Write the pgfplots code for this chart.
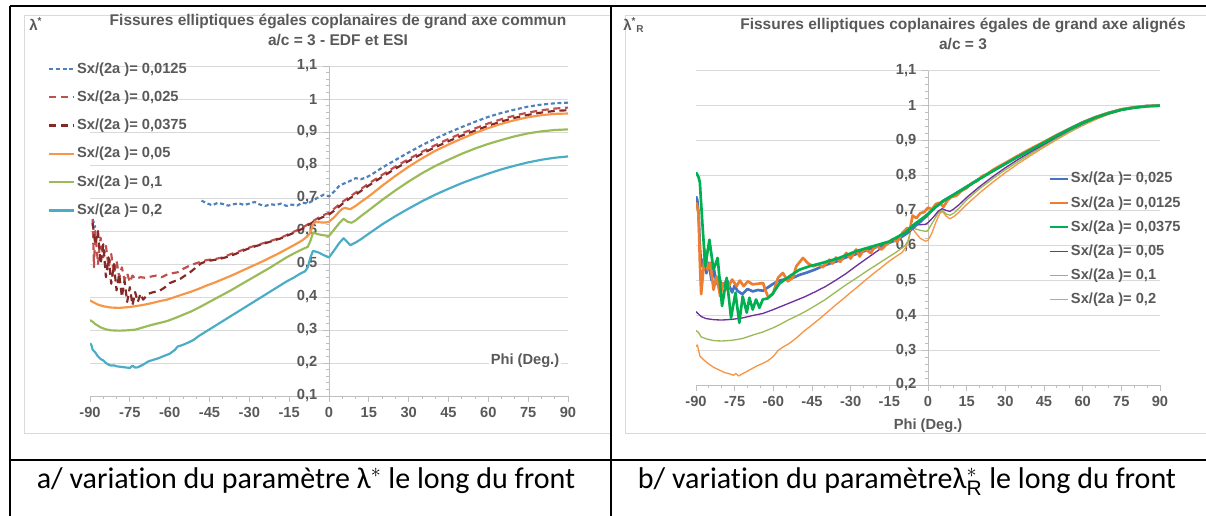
\documentclass[border=0pt]{standalone}
\usepackage{pgfplots}
\pgfplotsset{compat=1.18}
\usepackage{fontspec}
\setmainfont{Liberation Sans}
\newfontfamily\capfont{Carlito}[Ligatures=NoCommon]
\definecolor{txt}{HTML}{595959}
\definecolor{grd}{HTML}{D9D9D9}
\definecolor{axl}{HTML}{BFBFBF}
\definecolor{frm}{HTML}{D9D9D9}
\definecolor{cA}{HTML}{4F81BD}
\definecolor{cB}{HTML}{C0504D}
\definecolor{cC}{HTML}{842828}
\definecolor{cD}{HTML}{F79646}
\definecolor{cE}{HTML}{9BBB59}
\definecolor{cF}{HTML}{4BACC6}
\definecolor{rA}{HTML}{4472C4}
\definecolor{rB}{HTML}{ED7D31}
\definecolor{rC}{HTML}{00B050}
\definecolor{rD}{HTML}{7030A0}
\definecolor{rE}{HTML}{9BBB59}
\definecolor{rF}{HTML}{F79646}
\newcommand\chf{\bfseries\fontsize{8.8}{10.4}\selectfont}
\pgfplotsset{
 mychart/.style={
  scale only axis,
  axis x line=bottom, axis y line=middle,
  axis line style={-, draw=axl, line width=0.6pt},
  xmin=-90, xmax=90,
  xtick={-90,-75,-60,-45,-30,-15,0,15,30,45,60,75,90},
  minor x tick num=2,
  minor y tick num=4,
  ymajorgrids, grid style={draw=grd, line width=0.6pt},
  major tick length=3.5pt, minor tick length=2pt,
  tick align=outside,
  tick style={draw=axl, line width=0.5pt},
  ticklabel style={font=\chf, text=txt},
  /pgf/number format/assume math mode=true,
  yticklabel style={/pgf/number format/.cd, use comma, fixed, precision=1},
  hide obscured x ticks=false, hide obscured y ticks=false,
  unbounded coords=jump,
  legend cell align=left,
  every axis plot/.append style={line join=round},
 }
}
\begin{document}
\begin{tikzpicture}
\path[use as bounding box] (0,0) rectangle (723.6pt,-309pt);
\begin{scope}[x=0.6pt,y=-0.6pt]
\draw[frm, line width=0.6pt] (24,15) rectangle (610,433);
\draw[frm, line width=0.6pt] (625,15) rectangle (1220,433);
\end{scope}

% ---------------- LEFT CHART ----------------
\begin{axis}[mychart, at={(54pt,-237.6pt)}, anchor=south west,
  width=286.8pt, height=198pt, ymin=0.1, ymax=1.1,
  ytick={0.1,0.2,0.3,0.4,0.5,0.6,0.7,0.8,0.9,1,1.1},
  legend style={at={(axis description cs:-0.088,1.017)}, anchor=north west,
    draw=none, fill=none, font=\chf, text=txt, row sep=7.1pt, inner sep=0pt,
    nodes={inner sep=1pt},
    /tikz/every even column/.append style={column sep=0pt}},
  legend image code/.code={\draw[#1] (0pt,0pt) -- (15pt,0pt);}]
\addplot[cA, line width=1.3pt, dash pattern=on 2.4pt off 1.6pt] coordinates {
(-89,0.636) (-88,0.61) (-87,nan) (-48,0.692) (-46,0.684) (-44,0.678) (-42,0.685) (-40,0.682)
(-38,0.677) (-36,0.681) (-34,0.684) (-32,0.679) (-30,0.683) (-28,0.688) (-26,0.680) (-24,0.676)
(-22,0.681) (-20,0.679) (-18,0.683) (-16,0.676) (-14,0.68) (-12,0.677) (-10,0.686) (-8,0.683)
(-6,0.693) (-4,0.702) (-2,0.71) (0,0.705) (2,0.72) (4,0.738) (6,0.745) (8,0.752) (10,0.76)
(12,0.757) (14,0.762) (17,0.776) (20,0.792) (25,0.815) (30,0.838) (35,0.86) (40,0.88) (45,0.898)
(50,0.915) (55,0.931) (60,0.946) (65,0.958) (70,0.968) (75,0.977) (80,0.983) (85,0.987) (90,0.989)};
\addlegendentry{Sx/(2a )= 0,0125}
\addplot[cB, line width=1.3pt, dash pattern=on 4.2pt off 2.8pt] coordinates {
(-89,0.635) (-88.5,0.49) (-88,0.60) (-87,0.50) (-86,0.58) (-85,0.52) (-84,0.555) (-83,0.49)
(-82,0.53) (-81,0.47) (-80,0.51) (-79,0.46) (-78,0.49) (-77,0.452) (-76,0.472) (-75,0.445)
(-74,0.465) (-73,0.455) (-71,0.46) (-69,0.458) (-67,0.462) (-65,0.465) (-63,0.46) (-61,0.468)
(-59,0.472) (-57,0.475) (-55,0.485) (-52,0.497) (-49,0.505) (-46,0.512) (-43,0.515) (-40,0.52)
(-37,0.53) (-34,0.538) (-30,0.55) (-26,0.56) (-22,0.57) (-18,0.58) (-14,0.595) (-10,0.61)
(-6,0.63) (-3,0.645) (0,0.655) (2,0.668) (5,0.688) (8,0.705) (10,0.716) (15,0.744) (20,0.77)
(25,0.795) (30,0.818) (35,0.84) (40,0.86) (45,0.879) (50,0.896) (55,0.911) (60,0.926) (65,0.939)
(70,0.95) (75,0.959) (80,0.966) (85,0.971) (90,0.974)};
\addlegendentry{Sx/(2a )= 0,025}
\addplot[cC, line width=1.3pt, dash pattern=on 4.2pt off 2.8pt] coordinates {
(-89,0.625) (-88,0.56) (-87,0.6) (-86,0.50) (-85,0.56) (-84,0.46) (-83,0.52) (-82,0.44) (-81,0.50)
(-80,0.42) (-79,0.47) (-78,0.40) (-77,0.45) (-76,0.385) (-75,0.43) (-74,0.375) (-73,0.415)
(-72,0.385) (-71,0.41) (-70,0.392) (-68,0.41) (-66,0.415) (-64,0.418) (-62,0.428) (-60,0.442)
(-56,0.455) (-52,0.477) (-48,0.503) (-45,0.51) (-42,0.514) (-39,0.52) (-36,0.528) (-33,0.538)
(-30,0.548) (-26,0.558) (-22,0.568) (-18,0.578) (-14,0.592) (-10,0.607) (-6,0.627) (-3,0.64)
(0,0.65) (2,0.662) (5,0.682) (8,0.7) (10,0.71) (15,0.738) (20,0.764) (25,0.789) (30,0.812)
(35,0.834) (40,0.854) (45,0.872) (50,0.889) (55,0.904) (60,0.919) (65,0.932) (70,0.943)
(75,0.952) (80,0.959) (85,0.964) (90,0.966)};
\addlegendentry{Sx/(2a )= 0,0375}
\addplot[cD, line width=1.3pt] coordinates {
(-90,0.39) (-89,0.385) (-87,0.377) (-85,0.372) (-82,0.368) (-79,0.367) (-76,0.369) (-73,0.372)
(-70,0.376) (-67,0.381) (-64,0.387) (-61,0.392) (-58,0.4) (-55,0.408) (-52,0.416) (-49,0.425)
(-46,0.435) (-43,0.444) (-40,0.454) (-37,0.464) (-34,0.475) (-31,0.486) (-28,0.497) (-25,0.508)
(-22,0.52) (-19,0.532) (-16,0.545) (-13,0.558) (-10,0.572) (-8,0.585) (-7,0.595) (-6,0.622)
(-5,0.627) (-3,0.626) (-1,0.626) (0,0.628) (2,0.642) (4,0.66) (5,0.667) (6,0.67) (7,0.668)
(8,0.666) (10,0.676) (12,0.688) (15,0.705) (20,0.737) (25,0.767) (30,0.795) (35,0.82) (40,0.843)
(45,0.862) (50,0.88) (55,0.897) (60,0.912) (65,0.925) (70,0.936) (75,0.945) (80,0.951) (85,0.955)
(90,0.956)};
\addlegendentry{Sx/(2a )= 0,05}
\addplot[cE, line width=1.3pt] coordinates {
(-90,0.33) (-89,0.325) (-88,0.318) (-86,0.308) (-84,0.302) (-82,0.299) (-79,0.298) (-76,0.299)
(-73,0.301) (-70,0.308) (-67,0.315) (-64,0.321) (-61,0.327) (-58,0.336) (-55,0.346) (-52,0.356)
(-49,0.368) (-46,0.381) (-43,0.394) (-40,0.407) (-37,0.42) (-34,0.434) (-31,0.448) (-28,0.462)
(-25,0.476) (-22,0.49) (-19,0.505) (-16,0.52) (-13,0.533) (-10,0.545) (-8,0.552) (-7,0.57)
(-6,0.595) (-4,0.59) (-2,0.587) (0,0.585) (2,0.605) (4,0.625) (5.5,0.637) (7,0.628) (8.5,0.625)
(10,0.632) (12,0.645) (15,0.663) (20,0.694) (25,0.723) (30,0.75) (35,0.775) (40,0.797) (45,0.816)
(50,0.834) (55,0.85) (60,0.864) (65,0.876) (70,0.887) (75,0.896) (80,0.902) (85,0.906) (90,0.908)};
\addlegendentry{Sx/(2a )= 0,1}
\addplot[cF, line width=1.3pt] coordinates {
(-90,0.26) (-89.5,0.255) (-89,0.24) (-88,0.232) (-87,0.22) (-86,0.212) (-85,0.208) (-84,0.2)
(-83,0.195) (-82,0.192) (-81,0.193) (-80,0.19) (-78,0.188) (-76,0.186) (-75,0.185) (-74,0.192)
(-73,0.186) (-72,0.187) (-70,0.195) (-68,0.205) (-66,0.21) (-64,0.215) (-62,0.222) (-60,0.228)
(-58,0.24) (-57,0.25) (-55,0.255) (-53,0.262) (-51,0.27) (-49,0.282) (-46,0.297) (-43,0.312)
(-40,0.327) (-37,0.342) (-34,0.357) (-31,0.372) (-28,0.387) (-25,0.402) (-22,0.417) (-19,0.432)
(-16,0.447) (-13,0.46) (-11,0.47) (-9,0.478) (-8,0.49) (-7,0.52) (-6,0.54) (-4,0.535) (-2,0.527)
(0,0.52) (2,0.542) (4,0.565) (5.5,0.578) (7,0.566) (8,0.557) (10,0.565) (12,0.575) (15,0.592)
(20,0.62) (25,0.645) (30,0.668) (35,0.69) (40,0.71) (45,0.728) (50,0.745) (55,0.76) (60,0.774)
(65,0.787) (70,0.798) (75,0.808) (80,0.816) (85,0.822) (90,0.826)};
\addlegendentry{Sx/(2a )= 0,2}
\node[fill=white, inner sep=1pt, font=\chf, text=txt] at (axis cs:73.8,0.206) {Phi (Deg.)};
\end{axis}

% ---------------- RIGHT CHART ----------------
\begin{axis}[mychart, at={(417.6pt,-231pt)}, anchor=south west,
  width=278.4pt, height=188.6pt, ymin=0.2, ymax=1.1,
  ytick={0.2,0.3,0.4,0.5,0.6,0.7,0.8,0.9,1,1.1},
  xlabel={Phi (Deg.)}, xlabel style={font=\chf, text=txt},
  legend style={at={(axis description cs:0.7586,0.683)}, anchor=north west,
    draw=none, fill=none, font=\chf, text=txt, row sep=4.6pt, inner sep=0pt,
    nodes={inner sep=1pt},
    /tikz/every even column/.append style={column sep=0pt}},
  legend image code/.code={\draw[#1] (0pt,0pt) -- (11pt,0pt);}]
\addplot[rF, line width=0.8pt, forget plot] coordinates {
(-90,0.31) (-89.5,0.315) (-89,0.3) (-88.5,0.283) (-87,0.272) (-85,0.26) (-83,0.25) (-81,0.243)
(-79,0.236) (-77,0.232) (-75.5,0.228) (-74.5,0.233) (-73.5,0.226) (-72,0.232) (-70,0.24)
(-68,0.248) (-66,0.256) (-64,0.262) (-62,0.27) (-60,0.282) (-58,0.3) (-56,0.31) (-54,0.318)
(-51,0.335) (-48,0.355) (-45,0.372) (-42,0.39) (-39,0.409) (-36,0.428) (-33,0.446) (-30,0.465)
(-27,0.483) (-24,0.502) (-21,0.52) (-18,0.537) (-15,0.555) (-12,0.57) (-10,0.58) (-8.5,0.595)
(-7.5,0.62) (-6.5,0.652) (-5,0.638) (-3,0.62) (-1,0.612) (0,0.614) (1.5,0.635) (3,0.665)
(4.5,0.69) (5.5,0.698) (7,0.684) (8.5,0.676) (10,0.682) (12,0.695) (15,0.717) (20,0.75) (25,0.78)
(30,0.808) (35,0.834) (40,0.858) (45,0.881) (50,0.903) (55,0.924) (60,0.943) (65,0.96) (70,0.975)
(75,0.986) (80,0.993) (85,0.998) (90,1.0)};
\addplot[rE, line width=0.8pt, forget plot] coordinates {
(-90,0.356) (-89,0.35) (-88,0.338) (-86,0.332) (-83,0.327) (-80,0.326) (-76,0.328) (-72,0.333)
(-68,0.343) (-64,0.352) (-60,0.364) (-57,0.375) (-54,0.387) (-50,0.401) (-47,0.413) (-44,0.426)
(-40,0.444) (-36,0.465) (-32,0.486) (-28,0.505) (-24,0.525) (-20,0.544) (-16,0.563) (-12,0.582)
(-9,0.598) (-7.5,0.615) (-6.5,0.652) (-5,0.647) (-3,0.643) (-1,0.64) (0,0.643) (2,0.668)
(4,0.693) (5.5,0.701) (7,0.69) (8.5,0.686) (10,0.692) (12,0.706) (15,0.73) (20,0.762) (25,0.79)
(30,0.816) (35,0.84) (40,0.863) (45,0.885) (50,0.906) (55,0.926) (60,0.945) (65,0.962) (70,0.976)
(75,0.987) (80,0.994) (85,0.998) (90,1.0)};
\addplot[rD, line width=0.8pt, forget plot] coordinates {
(-90,0.41) (-88,0.396) (-86,0.39) (-83,0.387) (-80,0.386) (-76,0.388) (-72,0.392) (-68,0.399)
(-64,0.405) (-60,0.416) (-56,0.428) (-52,0.44) (-48,0.452) (-44,0.466) (-40,0.481) (-36,0.499)
(-32,0.518) (-28,0.54) (-24,0.561) (-20,0.582) (-16,0.602) (-12,0.622) (-9,0.637) (-7.5,0.648)
(-6.5,0.658) (-5,0.659) (-3,0.659) (-1,0.66) (0,0.665) (2,0.68) (4,0.698) (5.5,0.705) (7,0.7)
(8.5,0.697) (10,0.704) (12,0.716) (15,0.737) (20,0.768) (25,0.796) (30,0.822) (35,0.846)
(40,0.868) (45,0.889) (50,0.91) (55,0.93) (60,0.948) (65,0.964) (70,0.977) (75,0.987) (80,0.994)
(85,0.998) (90,1.0)};
\addplot[rA, line width=1.6pt, forget plot] coordinates {
(-90,0.74) (-89.5,0.73) (-89,0.69) (-88.5,0.6) (-88,0.54) (-87,0.56) (-86,0.52) (-85,0.55)
(-84,0.5) (-83,0.53) (-82,0.49) (-81,0.51) (-80,0.48) (-78,0.5) (-76,0.465) (-75,0.485)
(-74,0.47) (-72,0.46) (-70,0.475) (-68,0.468) (-66,0.472) (-64,0.47) (-62,0.48) (-60,0.49)
(-58,0.498) (-56,0.502) (-54,0.505) (-52,0.508) (-50,0.515) (-47,0.522) (-44,0.53) (-41,0.54)
(-38,0.548) (-35,0.555) (-32,0.565) (-29,0.572) (-26,0.58) (-23,0.588) (-20,0.595) (-17,0.602)
(-14,0.61) (-11,0.62) (-8,0.635) (-5,0.655) (-3,0.667) (0,0.688) (3,0.71) (6,0.728) (10,0.745)
(15,0.768) (20,0.791) (25,0.813) (30,0.834) (35,0.855) (40,0.875) (45,0.895) (50,0.915)
(55,0.934) (60,0.952) (65,0.967) (70,0.979) (75,0.989) (80,0.995) (85,0.999) (90,1.0)};
\addplot[rB, line width=1.6pt, forget plot] coordinates {
(-90,0.723) (-89.5,0.71) (-89,0.69) (-88.5,0.55) (-88,0.46) (-87.5,0.5) (-86.5,0.588) (-85.5,0.53)
(-84.5,0.55) (-83.2,0.473) (-82,0.511) (-80.6,0.454) (-79.5,0.492) (-78,0.473) (-76,0.502)
(-74.2,0.483) (-73,0.499) (-71.5,0.483) (-69.9,0.497) (-68,0.488) (-66,0.49) (-64,0.492)
(-63,0.47) (-62,0.452) (-60.2,0.46) (-58.2,0.507) (-56.3,0.521) (-54.4,0.497) (-52.4,0.507)
(-51.1,0.54) (-48.5,0.564) (-46.5,0.548) (-44.6,0.54) (-42.5,0.545) (-40.8,0.537) (-38.2,0.559)
(-37,0.548) (-35.7,0.565) (-34,0.553) (-31.7,0.578) (-30,0.562) (-27.9,0.588) (-26.5,0.568)
(-24.7,0.59) (-22.2,0.578) (-20.2,0.6) (-18,0.588) (-15.7,0.605) (-13.7,0.618) (-12,0.61)
(-9.8,0.637) (-8,0.65) (-7,0.645) (-6,0.685) (-4.5,0.678) (-3,0.692) (-1.5,0.695) (0,0.708)
(1.5,0.703) (3,0.718) (4.5,0.722) (6,0.71) (7.5,0.728) (9,0.738) (11,0.742) (13,0.756) (15,0.764)
(17,0.778) (19,0.784) (21,0.798) (23,0.804) (25,0.815) (28,0.828) (30,0.836) (35,0.857) (40,0.877)
(45,0.896) (50,0.916) (55,0.934) (60,0.952) (65,0.967) (70,0.979) (75,0.989) (80,0.995) (85,0.999)
(90,1.0)};
\addplot[rC, line width=1.6pt, forget plot] coordinates {
(-90,0.809) (-89,0.795) (-88.5,0.78) (-87.5,0.66) (-86.4,0.54) (-84.8,0.616) (-83.2,0.53)
(-81.6,0.564) (-79.9,0.426) (-78.1,0.507) (-76.4,0.392) (-74.7,0.464) (-73.2,0.378) (-71.9,0.454)
(-70.3,0.407) (-69.3,0.45) (-68,0.416) (-66.7,0.445) (-65.4,0.421) (-64.1,0.445) (-62.2,0.448)
(-60.2,0.462) (-57.7,0.49) (-53.8,0.511) (-49.9,0.53) (-46,0.54) (-40.8,0.55) (-34.4,0.564)
(-27.9,0.583) (-21.5,0.597) (-15,0.611) (-8.5,0.638) (-5,0.662) (-2,0.678) (0,0.69) (3,0.71)
(6,0.727) (10,0.745) (15,0.767) (20,0.79) (25,0.812) (30,0.833) (35,0.854) (40,0.874) (45,0.894)
(50,0.914) (55,0.933) (60,0.951) (65,0.966) (70,0.978) (75,0.988) (80,0.994) (85,0.998) (90,1.0)};
\addlegendimage{rA, line width=1.6pt}\addlegendentry{Sx/(2a )= 0,025}
\addlegendimage{rB, line width=1.6pt}\addlegendentry{Sx/(2a )= 0,0125}
\addlegendimage{rC, line width=1.6pt}\addlegendentry{Sx/(2a )= 0,0375}
\addlegendimage{rD, line width=0.8pt}\addlegendentry{Sx/(2a )= 0,05}
\addlegendimage{rE, line width=0.8pt}\addlegendentry{Sx/(2a )= 0,1}
\addlegendimage{rF, line width=0.8pt}\addlegendentry{Sx/(2a )= 0,2}
\end{axis}

\begin{scope}[x=0.6pt,y=-0.6pt]
\node[font=\bfseries\fontsize{9.3}{11.6}\selectfont, text=txt, align=center] at (338,30)
  {Fissures elliptiques égales coplanaires de grand axe commun\\a/c = 3 - EDF et ESI};
\node[font=\bfseries\fontsize{9.3}{11.6}\selectfont, text=txt, align=center] at (963,34)
  {Fissures elliptiques coplanaires égales de grand axe alignés\\a/c = 3};
\node[font=\bfseries\fontsize{9}{10}\selectfont, text=txt, anchor=west, inner sep=0pt] at (29,24)
  {λ\textsuperscript{*}};
\node[font=\bfseries\fontsize{9}{10}\selectfont, text=txt, anchor=west, inner sep=0pt] at (623,25)
  {λ\textsuperscript{*}\textsubscript{R}};
\draw[line width=1.2pt] (10,6) -- (1210,6);
\draw[line width=1.2pt] (10,6) -- (10,520);
\draw[line width=1.2pt] (611,6) -- (611,520);
\draw[line width=1.2pt] (10,460) -- (1210,460);
\node[font=\capfont\fontsize{18}{21}\selectfont, anchor=base] at (306,488)
  {a/ variation du paramètre λ$^{*}$ le long du front};
\node[font=\capfont\fontsize{18}{21}\selectfont, anchor=base] at (907,488)
  {b/ variation du paramètreλ$^{*}_{\mathrm{R}}$ le long du front};
\end{scope}
\end{tikzpicture}
\end{document}
